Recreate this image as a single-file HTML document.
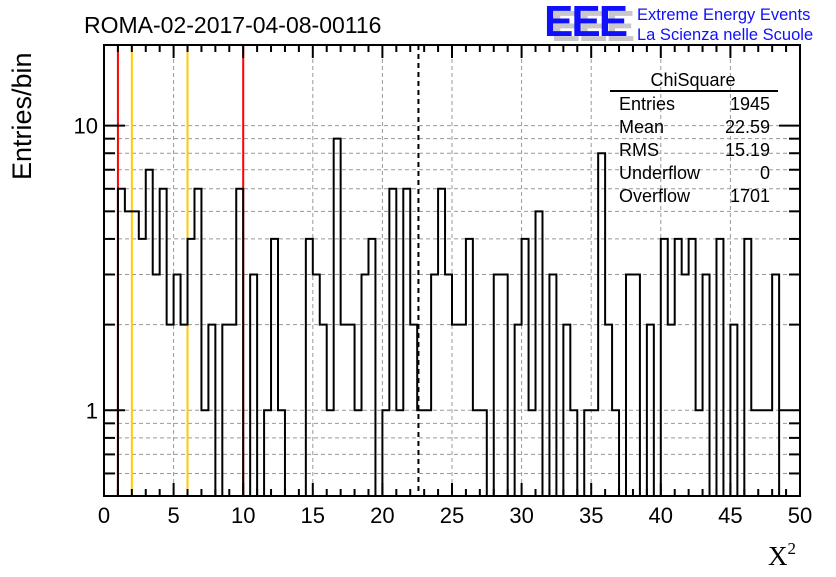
<!DOCTYPE html>
<html><head><meta charset="utf-8"><style>
body{margin:0;background:#fff}
svg text{font-family:"Liberation Sans",sans-serif}
</style></head><body>
<svg id="c" width="836" height="572" xmlns="http://www.w3.org/2000/svg">
<rect width="836" height="572" fill="#fff"/>
<text x="84" y="33" font-size="23">ROMA-02-2017-04-08-00116</text>
<g>
<text x="551" y="41" font-size="44" font-weight="bold" fill="#c8c8c8" style="letter-spacing:-2px">EEE</text>
<text x="544" y="36" font-size="44" font-weight="bold" fill="#1010ff" style="letter-spacing:-2px">EEE</text>
<text x="637" y="20" font-size="16.5" fill="#1010ff">Extreme Energy Events</text>
<text x="637" y="40" font-size="16.5" fill="#1010ff">La Scienza nelle Scuole</text>
</g>
<g id="grid"></g>
<g id="lines"></g>
<g id="hist"></g>
<g id="axes"></g>
<g font-size="18">
<text x="693" y="86" text-anchor="middle">ChiSquare</text>
<line x1="610" y1="91" x2="778" y2="91" stroke="#000" stroke-width="2"/>
<text x="619" y="110">Entries</text><text x="770" y="110" text-anchor="end">1945</text>
<text x="619" y="133">Mean</text><text x="770" y="133" text-anchor="end">22.59</text>
<text x="619" y="156">RMS</text><text x="770" y="156" text-anchor="end">15.19</text>
<text x="619" y="179">Underflow</text><text x="770" y="179" text-anchor="end">0</text>
<text x="619" y="202">Overflow</text><text x="770" y="202" text-anchor="end">1701</text>
</g>
<text transform="translate(31,180) rotate(-90)" font-size="27">Entries/bin</text>
<text x="768" y="565" font-size="27" style="font-family:'Liberation Serif',serif">X<tspan font-size="17" dy="-11">2</tspan></text>
</svg>
<script>
const counts=[0,0,6,5,5,4,7,3,6,2,3,2,4,6,1,2,0,2,2,6,0,3,0,1,4,1,0,0,0,4,3,2,1,9,2,2,1,3,4,0,1,6,1,6,2,1,1,3,6,3,2,2,4,1,1,0,3,3,0,2,4,1,5,0,3,0,2,1,0,1,1,8,2,1,0,3,3,0,2,0,4,2,4,3,4,1,3,0,4,0,2,0,4,1,1,1,3,0,0,0];
const xTicks=[0,5,10,15,20,25,30,35,40,45,50];
const yTickLabels=[1,10];
const redLines=[1,10];
const orangeLines=[2,6];
const meanValue=[22.59];
const X0=104,X1=800,Y0=45,Y1=496,XMIN=0,XMAX=50,YLOGMIN=Math.log10(0.5),YLOGMAX=Math.log10(19.2);
const sx=v=>X0+(v-XMIN)/(XMAX-XMIN)*(X1-X0);
const sy=v=>Y1-(Math.log10(v)-YLOGMIN)/(YLOGMAX-YLOGMIN)*(Y1-Y0);
const NS="http://www.w3.org/2000/svg";
function mk(t,a,p){const e=document.createElementNS(NS,t);for(const k in a)e.setAttribute(k,a[k]);p.appendChild(e);return e;}
const grid=document.getElementById('grid'),axes=document.getElementById('axes'),lines=document.getElementById('lines'),hist=document.getElementById('hist');
const yGridVals=[0.6,0.7,0.8,0.9,1,2,3,4,5,6,7,8,9,10];
yGridVals.forEach(v=>{const l=mk('line',{x1:X0,x2:X1,y1:sy(v),y2:sy(v),stroke:'#999','stroke-dasharray':'4,3','stroke-width':1},grid);

});
xTicks.forEach(v=>{if(v>XMIN&&v<XMAX){const l=mk('line',{x1:sx(v),x2:sx(v),y1:Y0,y2:Y1,stroke:'#999','stroke-dasharray':'4,3','stroke-width':1},grid);

}});
const bw=(XMAX-XMIN)/counts.length;
let d='',prevY=null;
counts.forEach((c,i)=>{const xa=sx(XMIN+i*bw),xb=sx(XMIN+(i+1)*bw);const yy=c>0?Math.min(sy(c),Y1):Y1;
if(prevY===null)d+='M'+xa+','+yy;else d+='L'+xa+','+yy;d+='L'+xb+','+yy;prevY=yy;});
const hp=mk('path',{d:d,fill:'none',stroke:'#000','stroke-width':2},hist);


redLines.forEach(v=>{const l=mk('line',{x1:sx(v),x2:sx(v),y1:Y0,y2:Y1,stroke:'#ff0000','stroke-width':2},lines);

});
orangeLines.forEach(v=>{const l=mk('line',{x1:sx(v),x2:sx(v),y1:Y0,y2:Y1,stroke:'#ffcc00','stroke-width':2},lines);

});
meanValue.forEach(v=>{const l=mk('line',{x1:sx(v),x2:sx(v),y1:Y0,y2:Y1,stroke:'#000','stroke-width':2,'stroke-dasharray':'5,4'},lines);

});
const fr=mk('rect',{x:X0,y:Y0,width:X1-X0,height:Y1-Y0,fill:'none',stroke:'#000','stroke-width':2},axes);


for(let v=XMIN;v<=XMAX;v++){const L=(v%5===0)?13:7;const x=sx(v);
mk('line',{x1:x,x2:x,y1:Y1,y2:Y1-L,stroke:'#000','stroke-width':2},axes);
mk('line',{x1:x,x2:x,y1:Y0,y2:Y0+L,stroke:'#000','stroke-width':2},axes);}
xTicks.forEach(v=>{const t=mk('text',{x:sx(v),y:Y1+27,'font-size':22,'text-anchor':'middle'},axes);t.textContent=v;

});
const ym=[0.6,0.7,0.8,0.9,2,3,4,5,6,7,8,9];
ym.forEach(v=>{const y=sy(v);mk('line',{x1:X0,x2:X0+11,y1:y,y2:y,stroke:'#000','stroke-width':2},axes);mk('line',{x1:X1,x2:X1-11,y1:y,y2:y,stroke:'#000','stroke-width':2},axes);});
yTickLabels.forEach(v=>{const y=sy(v);mk('line',{x1:X0,x2:X0+21,y1:y,y2:y,stroke:'#000','stroke-width':2},axes);mk('line',{x1:X1,x2:X1-21,y1:y,y2:y,stroke:'#000','stroke-width':2},axes);
const t=mk('text',{x:X0-6,y:y+8,'font-size':22,'text-anchor':'end'},axes);t.textContent=v;

});
</script>
</body></html>
